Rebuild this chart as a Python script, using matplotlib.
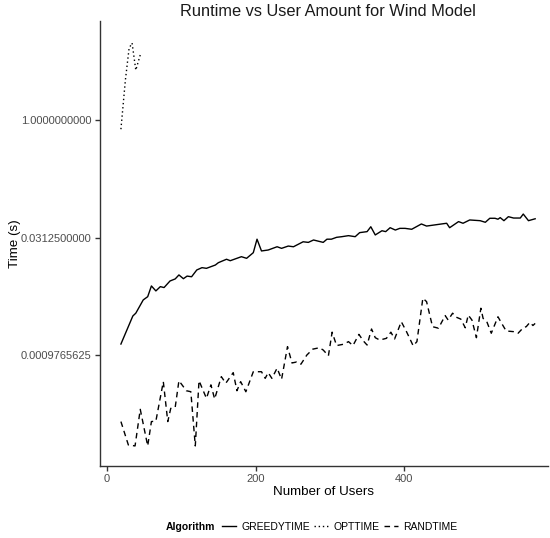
import matplotlib.pyplot as plt
from matplotlib.lines import Line2D

# values (time in seconds, log2 axis)
greedy_users = [19, 35, 39, 49, 55, 60, 66, 72, 77, 85, 92, 97, 103, 108, 114, 121, 128, 134,
                146, 150, 161, 166, 181, 188, 197, 202, 208, 217, 229, 235, 244, 251, 264, 271,
                278, 291, 296, 302, 309, 316, 325, 334, 340, 350, 355, 361, 370, 375, 381, 388,
                394, 401, 410, 423, 430, 450, 457, 461, 473, 479, 488, 502, 509, 515, 522, 526,
                529, 534, 540, 547, 556, 560, 567, 576]
greedy_time = [0.00136, 0.00311, 0.00338, 0.00500, 0.00550, 0.00755, 0.00652, 0.00740, 0.00720,
               0.00874, 0.00929, 0.01045, 0.00935, 0.01010, 0.00990, 0.01210, 0.01295, 0.01270,
               0.01400, 0.01500, 0.01660, 0.01590, 0.01790, 0.01706, 0.02015, 0.0300, 0.0212,
               0.0218, 0.0240, 0.0229, 0.0245, 0.0240, 0.0278, 0.0273, 0.0293, 0.0273, 0.0300,
               0.0300, 0.0317, 0.0323, 0.0333, 0.0323, 0.0364, 0.0375, 0.0433, 0.0340, 0.0385,
               0.0375, 0.0421, 0.0393, 0.0413, 0.0413, 0.0402, 0.0470, 0.0442, 0.0470, 0.0480,
               0.0421, 0.0504, 0.0480, 0.0529, 0.0518, 0.0494, 0.0556, 0.0556, 0.0541, 0.0567,
               0.0518, 0.0583, 0.0560, 0.0560, 0.0630, 0.0518, 0.0548]

opt_users = [19, 25, 30, 34, 39, 45]
opt_time = [0.77, 3.28, 8.4, 9.8, 4.4, 6.9]

rand_users = [19, 29, 38, 45, 55, 60, 66, 76, 82, 86, 92, 97, 107, 113, 119, 124, 134, 140, 145,
              154, 160, 170, 175, 180, 187, 197, 208, 213, 217, 222, 229, 235, 243, 249, 255,
              261, 269, 277, 286, 291, 298, 303, 309, 318, 325, 331, 339, 345, 350, 356, 361,
              367, 376, 382, 387, 396, 403, 412, 417, 425, 430, 438, 446, 455, 459, 465, 470,
              476, 482, 486, 491, 497, 503, 506, 511, 517, 526, 531, 537, 547, 553, 560, 564,
              569, 573, 576]
rand_time = [0.000138, 0.0000692, 0.0000673, 0.000198, 0.0000673, 0.000138, 0.000140, 0.000448,
             0.000138, 0.000204, 0.000211, 0.000461, 0.000343, 0.000333, 0.0000673, 0.000461,
             0.000274, 0.000408, 0.000269, 0.000519, 0.000428, 0.000585, 0.000343, 0.000448,
             0.000333, 0.000601, 0.000601, 0.000494, 0.000585, 0.000494, 0.000667, 0.000481,
             0.00126, 0.000778, 0.000800, 0.000750, 0.000983, 0.00117, 0.00122, 0.00114,
             0.000963, 0.00193, 0.00130, 0.00135, 0.00146, 0.00130, 0.00181, 0.00149, 0.00132,
             0.00212, 0.00164, 0.00153, 0.00161, 0.00193, 0.00158, 0.00263, 0.00196, 0.00129,
             0.00146, 0.00526, 0.00475, 0.00227, 0.00217, 0.00315, 0.00276, 0.00338, 0.00300,
             0.00284, 0.00220, 0.00320, 0.00276, 0.00164, 0.00391, 0.00290, 0.00263, 0.00187,
             0.00304, 0.00250, 0.00200, 0.00196, 0.00187, 0.00220, 0.00227, 0.00258, 0.00235,
             0.00250]

y_ticks = [2 ** -10, 2 ** -5, 2 ** 0]
y_tick_labels = ['0.0009765625', '0.0312500000', '1.0000000000']
x_ticks = [0, 200, 400]

plt.rcParams['font.family'] = ['Liberation Sans', 'DejaVu Sans']

fig = plt.figure(figsize=(5.5, 5.38), dpi=100)
ax = fig.add_axes([0.182, 0.134, 0.814, 0.827])

ax.plot(greedy_users, greedy_time, color='black', linewidth=1.0, linestyle='-')
ax.plot(opt_users, opt_time, color='black', linewidth=1.0, linestyle=(0, (1, 2)))
ax.plot(rand_users, rand_time, color='black', linewidth=1.0, linestyle=(0, (4, 3)))

ax.set_yscale('log', base=2)
ax.set_ylim(2 ** -14.71, 2 ** 4.23)
ax.set_xlim(-9, 593)
ax.set_yticks(y_ticks)
ax.set_yticklabels(y_tick_labels)
ax.minorticks_off()
ax.set_xticks(x_ticks)

for side in ['top', 'right']:
    ax.spines[side].set_visible(False)
for side in ['left', 'bottom']:
    ax.spines[side].set_color('#333333')
    ax.spines[side].set_linewidth(1.0)
ax.tick_params(axis='both', colors='#333333', labelcolor='#4d4d4d', labelsize=8.0,
               length=3.5, width=1.0, direction='out', pad=2.5)

fig.text(0.596, 0.978, 'Runtime vs User Amount for Wind Model', fontsize=11.8,
         color='#1a1a1a', ha='center', va='center')
ax.set_xlabel('Number of Users', fontsize=9.6, labelpad=1.5)
fig.text(0.027, 0.548, 'Time (s)', fontsize=9.6, rotation=90, ha='center', va='center')

# legend at the bottom, title on the left
handles = [Line2D([], [], color='black', linewidth=1.0, linestyle='-'),
           Line2D([], [], color='black', linewidth=1.0, linestyle=(0, (1, 2))),
           Line2D([], [], color='black', linewidth=1.0, linestyle=(0, (4, 3)))]
labels = ['GREEDYTIME', 'OPTTIME', 'RANDTIME']
fig.text(0.302, 0.0204, 'Algorithm', fontsize=7.5, fontweight='bold', va='center', ha='left')
fig.legend(handles, labels, loc='center left', bbox_to_anchor=(0.404, 0.0204), ncol=3,
           frameon=False, fontsize=7.5, handlelength=1.35, handletextpad=0.5,
           columnspacing=0.4, borderpad=0, borderaxespad=0)

plt.savefig('out.png', dpi=100)
